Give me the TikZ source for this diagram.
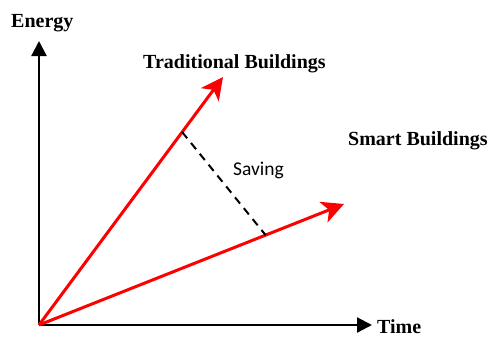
\documentclass[tikz,border=0pt]{standalone}
\usepackage{fontspec}
\setmainfont{Liberation Serif}
\newfontfamily\savefont{Carlito}
\usetikzlibrary{arrows.meta,calc}
\begin{document}
\begin{tikzpicture}[x=1pt,y=-1pt,
  axis/.style={draw=black,line width=2.2pt,-{Triangle[length=15pt,width=15pt]}},
  trend/.style={draw=red,line width=3pt,-{Stealth[length=22pt,width=22pt,inset=6pt]}},
  saveline/.style={draw=black,line width=2pt,dash pattern=on 8pt off 6pt},
  lbl/.style={inner sep=0pt,anchor=base west,font=\fontsize{20}{22}\selectfont\bfseries},
  slbl/.style={inner sep=0pt,anchor=base west,font=\fontsize{19.5}{22}\selectfont\savefont}]
\useasboundingbox (0,0) rectangle (489,337);
\coordinate (O) at (39,325);
\coordinate (Y) at (39,41);
\coordinate (X) at (372,325);
\coordinate (T) at (223,77);
\coordinate (S) at (344,204);
\draw[axis] (O) -- (Y);
\draw[axis] (O) -- (X);
\draw[trend] (O) -- (T);
\draw[trend] (O) -- (S);
\coordinate (d1) at ($(O)!0.778!(T)$);
\coordinate (d2) at ($(O)!0.743!(S)$);
\draw[saveline] (d1) -- (d2);
\node[lbl] (energy) at (11,28) {Energy};
\node[lbl] (time) at (377,333) {Time};
\node[lbl] (trad) at (143,68) {Traditional Buildings};
\node[lbl] (smart) at (348,145) {Smart Buildings};
\node[slbl] (saving) at (233,175) {Saving};
\end{tikzpicture}
\end{document}
